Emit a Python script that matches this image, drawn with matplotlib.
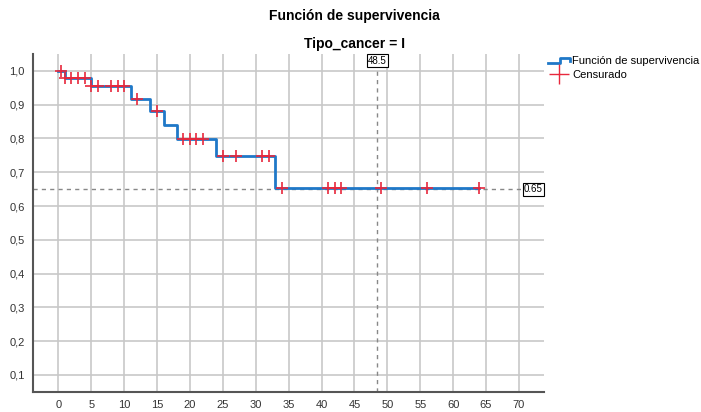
import numpy as np
import matplotlib
matplotlib.use("Agg")
import matplotlib.pyplot as plt
from matplotlib.lines import Line2D
from matplotlib.legend_handler import HandlerBase

plt.rcParams["font.family"] = ["Liberation Sans", "DejaVu Sans"]

# ---------------------------------------------------------------
# Data (Kaplan-Meier, Tipo_cancer = I)
# ---------------------------------------------------------------
event_times = [1, 5, 11, 14, 16, 18, 24, 33]
surv_levels = [0.978, 0.954, 0.917, 0.880, 0.839, 0.799, 0.747, 0.652]
censor_times = [0.4, 1, 2, 3, 4, 5, 6, 8, 9, 10, 12, 15, 19, 20, 21, 22,
                25, 27, 31, 32, 34, 41, 42, 43, 49, 56, 64]
ref_time = 48.5
ref_surv = 0.65
x_ticks = list(range(0, 75, 5))
y_ticks = [0.1, 0.2, 0.3, 0.4, 0.5, 0.6, 0.7, 0.8, 0.9, 1.0]

BLUE = "#1f78c8"
RED = "#e8283c"

# step curve
step_x = [0] + event_times + [censor_times[-1]]
step_y = [1.0] + surv_levels + [surv_levels[-1]]


def surv_at(t):
    idx = np.searchsorted(event_times, t, side="right")
    return 1.0 if idx == 0 else surv_levels[idx - 1]


censor_y = [surv_at(t) for t in censor_times]


class StepHandler(HandlerBase):
    def create_artists(self, legend, orig_handle, xdescent, ydescent,
                       width, height, fontsize, trans):
        x0, x1 = -xdescent, -xdescent + width
        xm = x0 + width * 0.55
        y0 = -ydescent + height * 0.15
        y1 = -ydescent + height * 0.85
        line = Line2D([x0, xm, xm, x1, x1], [y0, y0, y1, y1, y0 + height * 0.2],
                      color=BLUE, lw=2)
        line.set_transform(trans)
        return [line]


fig = plt.figure(figsize=(7.01, 4.12), dpi=100)
ax = fig.add_axes([0.047, 0.049, 0.729, 0.82])

ax.step(step_x, step_y, where="post", color=BLUE, lw=2, zorder=3)
ax.plot(censor_times, censor_y, ls="none", marker="+", color=RED,
        markersize=8, mew=1.2, zorder=4)

# reference lines
ax.axvline(ref_time, color="#888888", ls=(0, (3, 3)), lw=1, zorder=2)
ax.axhline(ref_surv, color="#888888", ls=(0, (3, 3)), lw=1, zorder=2)
box = dict(boxstyle="square,pad=0.15", fc="white", ec="black", lw=0.8)
ax.text(ref_time, 1.03, "48.5", ha="center", va="center", fontsize=7,
        bbox=box, zorder=5)
ax.text(72.2, ref_surv, "0.65", ha="center", va="center", fontsize=7,
        bbox=box, zorder=5)

ax.set_xlim(-3.85, 73.8)
ax.set_ylim(0.05, 1.05)
ax.set_xticks(x_ticks)
ax.set_yticks(y_ticks)
ax.set_yticklabels([f"{v:.1f}".replace(".", ",") for v in y_ticks])
ax.tick_params(length=0, labelsize=8, colors="#333333", pad=6)
ax.grid(True, color="#c8c8c8", lw=1.2, zorder=0)
ax.set_axisbelow(True)
for s in ["top", "right"]:
    ax.spines[s].set_visible(False)
for s in ["left", "bottom"]:
    ax.spines[s].set_color("#555555")
    ax.spines[s].set_linewidth(1.5)

h1 = Line2D([], [], color=BLUE, lw=2)
h2 = Line2D([], [], ls="none", marker="+", color=RED, markersize=14, mew=1)
ax.legend([h1, h2], ["Función de supervivencia", "Censurado"],
          handler_map={h1: StepHandler()},
          loc="upper left", bbox_to_anchor=(1.003, 1.0), frameon=False,
          fontsize=8, handlelength=2.0, handletextpad=0.2, labelspacing=0.3,
          borderaxespad=0.2, borderpad=0)

fig.text(0.505, 0.962, "Función de supervivencia", ha="center", va="center",
         fontsize=10, fontweight="bold")
fig.text(0.505, 0.893, "Tipo_cancer = I", ha="center", va="center",
         fontsize=10, fontweight="bold")

fig.savefig("out.png", dpi=100)
